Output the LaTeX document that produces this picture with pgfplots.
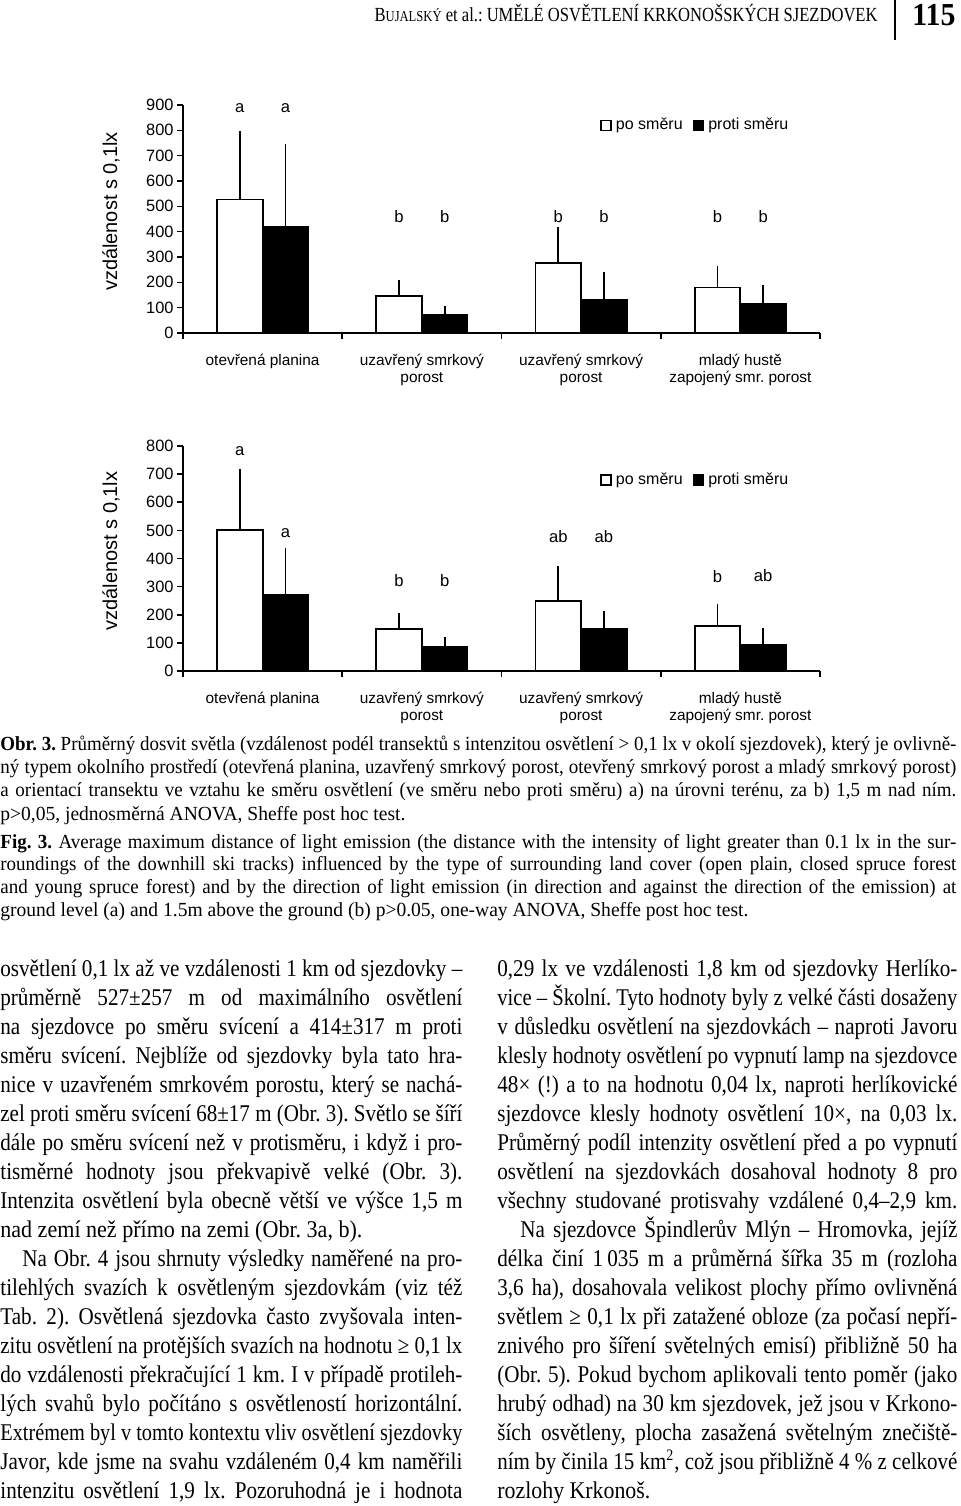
\documentclass[border=0pt]{standalone}
\usepackage{fontspec}
\setmainfont{Liberation Sans}
\newfontfamily\bodyf[FakeStretch=0.88]{Liberation Serif}
\newfontfamily\capf[FakeStretch=0.95]{Liberation Serif}
\newfontfamily\headf[FakeStretch=0.9]{Liberation Serif}
\usepackage{graphicx}
\usepackage{pgfplots}
\pgfplotsset{compat=1.18}
\frenchspacing

\newsavebox\lb
\newcommand\jl[2]{\sbox\lb{#2}\ifdim\wd\lb>#1\relax\resizebox{#1}{\ht\lb}{\usebox\lb}\else\makebox[#1][s]{#2}\fi}
\newcommand\fitw[2]{\sbox\lb{#2}\resizebox{#1}{\ht\lb}{\usebox\lb}}

\pgfplotsset{barchart/.style={
  scale only axis, width=318.5pt, xmin=0, xmax=4, ymin=0,
  axis x line*=bottom, axis y line*=left,
  axis line style={line width=0.8pt, black},
  tick align=outside, major tick length=3pt,
  tick style={line width=0.8pt, black},
  yticklabel style={font=\fontsize{8.2}{9}\selectfont, inner sep=1.5pt},
  /pgf/number format/assume math mode=true,
  xtick={0,1,2,3,4}, xticklabels={},
  extra x ticks={0.5,1.5,2.5,3.5},
  extra x tick labels={otevřená planina, {uzavřený smrkový\\porost}, {uzavřený smrkový\\porost}, {mladý hustě\\zapojený smr. porost}},
  extra x tick style={tick style={draw=none}},
  xticklabel style={align=center, font=\fontsize{7.7}{8.2}\selectfont, anchor=north, inner sep=0pt, yshift=-7.5pt},
  ylabel={vzdálenost s 0,1lx},
  ylabel style={font=\fontsize{10}{11}\selectfont, at={(axis description cs:-0.113,0.533)}, anchor=center},
  ybar, bar width=0.287, bar shift=0pt,
  legend image code/.code={\draw[#1,line width=0.8pt] (0pt,-2.5pt) rectangle (5pt,2.5pt);},
  legend style={draw=none, fill=none, legend columns=2, font=\fontsize{8}{8.5}\selectfont, inner sep=0pt, anchor=west,
    /tikz/every even column/.append style={column sep=3pt}},
  clip=false,
}}
\pgfplotsset{po/.style={fill=white, draw=black, line width=0.9pt,
   error bars/.cd, y dir=plus, y explicit, error bar style={line width=0.8pt, black},
   error mark options={black, line width=0.8pt, mark size=1.8pt}},
  proti/.style={fill=black, draw=black, line width=0.9pt,
   error bars/.cd, y dir=plus, y explicit, error bar style={line width=0.8pt, black},
   error mark options={black, line width=0.8pt, mark size=1.8pt}}}
\tikzset{lab/.style={font=\fontsize{8.3}{9}\selectfont}}

\pgfplotstableread[row sep=\\]{x y e\\ 0.3565 527 257\\ 1.3565 147 50\\ 2.3565 275 128\\ 3.3565 180 71\\}\apo
\pgfplotstableread[row sep=\\]{x y e\\ 0.6435 417 315\\ 1.6435 71 20\\ 2.6435 130 96\\ 3.6435 114 62\\}\apr
\pgfplotstableread[row sep=\\]{x y e\\ 0.3565 502 204\\ 1.3565 150 44\\ 2.3565 250 109\\ 3.3565 159 66\\}\bpo
\pgfplotstableread[row sep=\\]{x y e\\ 0.6435 270 156\\ 1.6435 84 24\\ 2.6435 151 49\\ 3.6435 92 48\\}\bpr

\begin{document}
\begin{tikzpicture}[x=0.5pt,y=0.5pt]
\useasboundingbox (0,0) rectangle (960,-1506);
\fill[white] (0,0) rectangle (960,-1506);

% header
\node[anchor=base east, inner sep=0pt, font=\headf\fontsize{10}{12}\selectfont] at (878,-21)
  {\fitw{251.5pt}{B{\fontsize{7.6}{9}\selectfont UJALSKÝ} et al.: UMĚLÉ OSVĚTLENÍ KRKONOŠSKÝCH SJEZDOVEK}};
\draw[line width=0.6pt] (895,0) -- (895,-40);
\node[anchor=base west, inner sep=0pt, font=\headf\bfseries\fontsize{16}{18}\selectfont] at (912,-25) {\fitw{21.5pt}{115}};

% chart a
\begin{axis}[barchart, at={(91.5pt,-166.5pt)}, anchor=south west, height=114pt, ymax=900,
  ytick={0,100,...,900}, legend style={at={(0.6546,0.9105)}}]
\addplot[po] table[x=x,y=y,y error=e] {\apo};
\addplot[proti] table[x=x,y=y,y error=e] {\apr};
\legend{po směru, proti směru}
\node[lab] at (axis cs:0.3565,887) {a};
\node[lab] at (axis cs:0.6435,887) {a};
\node[lab] at (axis cs:1.3565,459) {b};
\node[lab] at (axis cs:1.6435,459) {b};
\node[lab] at (axis cs:2.3565,459) {b};
\node[lab] at (axis cs:2.6435,459) {b};
\node[lab] at (axis cs:3.3565,459) {b};
\node[lab] at (axis cs:3.6435,459) {b};
\end{axis}

% chart b
\begin{axis}[barchart, at={(91.5pt,-335.5pt)}, anchor=south west, height=112.5pt, ymax=800,
  ytick={0,100,...,800}, legend style={at={(0.6546,0.849)}}]
\addplot[po] table[x=x,y=y,y error=e] {\bpo};
\addplot[proti] table[x=x,y=y,y error=e] {\bpr};
\legend{po směru, proti směru}
\node[lab] at (axis cs:0.3565,783) {a};
\node[lab] at (axis cs:0.6435,490) {a};
\node[lab] at (axis cs:1.3565,321) {b};
\node[lab] at (axis cs:1.6435,321) {b};
\node[lab] at (axis cs:2.3565,478) {ab};
\node[lab] at (axis cs:2.6435,478) {ab};
\node[lab] at (axis cs:3.3565,335) {b};
\node[lab] at (axis cs:3.6435,339) {ab};
\end{axis}

% caption
\begin{scope}[every node/.style={anchor=base west, inner sep=0pt, font=\capf\fontsize{10}{12}\selectfont}]
\node at (0,-750) {\jl{478pt}{{\bfseries Obr. 3.} Průměrný dosvit světla (vzdálenost podél transektů s intenzitou osvětlení > 0,1 lx v okolí sjezdovek), který je ovlivně-}};
\node at (0,-773.3) {\jl{478pt}{ný typem okolního prostředí (otevřená planina, uzavřený smrkový porost, otevřený smrkový porost a mladý smrkový porost)}};
\node at (0,-796.6) {\jl{478pt}{a orientací transektu ve vztahu ke směru osvětlení (ve směru nebo proti směru) a) na úrovni terénu, za b) 1,5 m nad ním.}};
\node at (0,-820) {\fitw{202.5pt}{p>0,05, jednosměrná ANOVA, Sheffe post hoc test.}};
\node at (0,-848) {\jl{478pt}{{\bfseries Fig. 3.} Average maximum distance of light emission (the distance with the intensity of light greater than 0.1 lx in the sur-}};
\node at (0,-870.6) {\jl{478pt}{roundings of the downhill ski tracks) influenced by the type of surrounding land cover (open plain, closed spruce forest}};
\node at (0,-893.2) {\jl{478pt}{and young spruce forest) and by the direction of light emission (in direction and against the direction of the emission) at}};
\node at (0,-916) {\fitw{374pt}{ground level (a) and 1.5m above the ground (b) p>0.05, one-way ANOVA, Sheffe post hoc test.}};
\end{scope}

% body text
\begin{scope}[every node/.style={anchor=base west, inner sep=0pt, font=\bodyf\fontsize{12}{14}\selectfont}]
\node at (0,-976) {\jl{231pt}{osvětlení 0,1 lx až ve vzdálenosti 1 km od sjezdovky –}};
\node at (0,-1005) {\jl{231pt}{průměrně 527±257 m od maximálního osvětlení}};
\node at (0,-1034) {\jl{231pt}{na sjezdovce po směru svícení a 414±317 m proti}};
\node at (0,-1063) {\jl{231pt}{směru svícení. Nejblíže od sjezdovky byla tato hra-}};
\node at (0,-1092) {\jl{231pt}{nice v uzavřeném smrkovém porostu, který se nachá-}};
\node at (0,-1121) {\jl{231pt}{zel proti směru svícení 68±17 m (Obr. 3). Světlo se šíří}};
\node at (0,-1150) {\jl{231pt}{dále po směru svícení než v protisměru, i když i pro-}};
\node at (0,-1179) {\jl{231pt}{tisměrné hodnoty jsou překvapivě velké (Obr. 3).}};
\node at (0,-1208) {\jl{231pt}{Intenzita osvětlení byla obecně větší ve výšce 1,5 m}};
\node at (0,-1237) {\fitw{181pt}{nad zemí než přímo na zemi (Obr. 3a, b).}};
\node at (22,-1266) {\jl{220pt}{Na Obr. 4 jsou shrnuty výsledky naměřené na pro-}};
\node at (0,-1295) {\jl{231pt}{tilehlých svazích k osvětleným sjezdovkám (viz též}};
\node at (0,-1324) {\jl{231pt}{Tab. 2). Osvětlená sjezdovka často zvyšovala inten-}};
\node at (0,-1353) {\jl{231pt}{zitu osvětlení na protějších svazích na hodnotu ≥ 0,1 lx}};
\node at (0,-1382) {\jl{231pt}{do vzdálenosti překračující 1 km. I v případě protileh-}};
\node at (0,-1411) {\jl{231pt}{lých svahů bylo počítáno s osvětleností horizontální.}};
\node at (0,-1440) {\jl{231pt}{Extrémem byl v tomto kontextu vliv osvětlení sjezdovky}};
\node at (0,-1469) {\jl{231pt}{Javor, kde jsme na svahu vzdáleném 0,4 km naměřili}};
\node at (0,-1498) {\jl{231pt}{intenzitu osvětlení 1,9 lx. Pozoruhodná je i hodnota}};

\node at (497,-976) {\jl{230pt}{0,29 lx ve vzdálenosti 1,8 km od sjezdovky Herlíko-}};
\node at (497,-1005) {\jl{230pt}{vice – Školní. Tyto hodnoty byly z velké části dosaženy}};
\node at (497,-1034) {\jl{230pt}{v důsledku osvětlení na sjezdovkách – naproti Javoru}};
\node at (497,-1063) {\jl{230pt}{klesly hodnoty osvětlení po vypnutí lamp na sjezdovce}};
\node at (497,-1092) {\jl{230pt}{48× (!) a to na hodnotu 0,04 lx, naproti herlíkovické}};
\node at (497,-1121) {\jl{230pt}{sjezdovce klesly hodnoty osvětlení 10×, na 0,03 lx.}};
\node at (497,-1150) {\jl{230pt}{Průměrný podíl intenzity osvětlení před a po vypnutí}};
\node at (497,-1179) {\jl{230pt}{osvětlení na sjezdovkách dosahoval hodnoty 8 pro}};
\node at (497,-1208) {\jl{230pt}{všechny studované protisvahy vzdálené 0,4–2,9 km.}};
\node at (520,-1237) {\jl{218.5pt}{Na sjezdovce Špindlerův Mlýn – Hromovka, jejíž}};
\node at (497,-1266) {\jl{230pt}{délka činí 1\,035 m a průměrná šířka 35 m (rozloha}};
\node at (497,-1295) {\jl{230pt}{3,6 ha), dosahovala velikost plochy přímo ovlivněná}};
\node at (497,-1324) {\jl{230pt}{světlem ≥ 0,1 lx při zatažené obloze (za počasí nepří-}};
\node at (497,-1353) {\jl{230pt}{znivého pro šíření světelných emisí) přibližně 50 ha}};
\node at (497,-1382) {\jl{230pt}{(Obr. 5). Pokud bychom aplikovali tento poměr (jako}};
\node at (497,-1411) {\jl{230pt}{hrubý odhad) na 30 km sjezdovek, jež jsou v Krkono-}};
\node at (497,-1440) {\jl{230pt}{ších osvětleny, plocha zasažená světelným znečiště-}};
\node at (497,-1469) {\jl{230pt}{ním by činila 15 km\textsuperscript{2}, což jsou přibližně 4 \% z celkové}};
\node at (497,-1498) {\fitw{76.5pt}{rozlohy Krkonoš.}};
\end{scope}
\end{tikzpicture}
\end{document}
